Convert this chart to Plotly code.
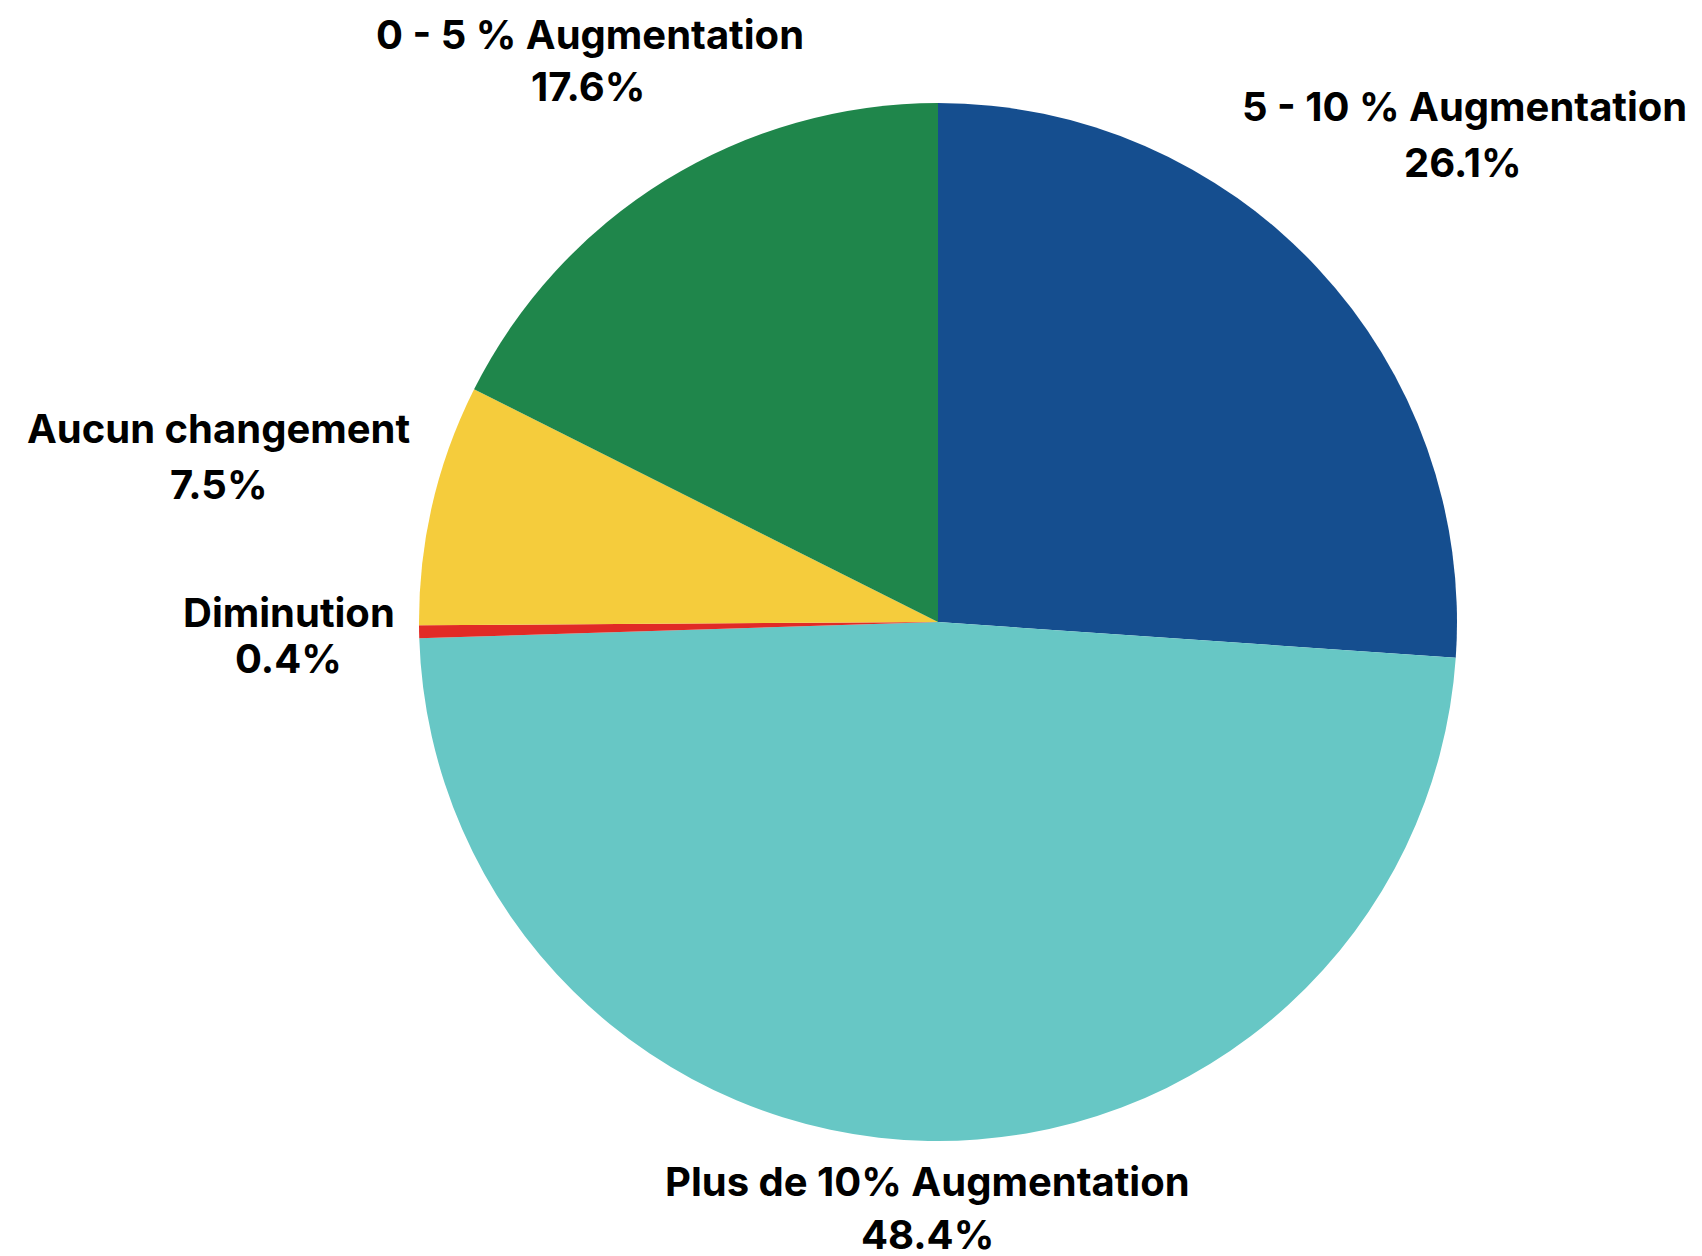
import plotly.graph_objects as go

labels = ["5 - 10 % Augmentation", "Plus de 10% Augmentation", "Diminution",
          "Aucun changement", "0 - 5 % Augmentation"]
values = [26.1, 48.4, 0.4, 7.5, 17.6]
colors = ["#154E8F", "#67C7C5", "#E12A26", "#F5CC3C", "#1F864B"]

W, H = 1702, 1256
OFF = 8  # page body margin offset

# label line centers in pixels (name line, percent line)
label_pos = {
    "5 - 10 % Augmentation": ((1464, 107), (1463, 162)),
    "Plus de 10% Augmentation": ((927, 1181), (927, 1234)),
    "Diminution": ((289, 613), (288, 658)),
    "Aucun changement": ((218, 429), (219, 484)),
    "0 - 5 % Augmentation": ((590, 34), (588, 86)),
}

fig = go.Figure(go.Pie(
    labels=labels,
    values=values,
    marker=dict(colors=colors, line=dict(width=0)),
    sort=False,
    direction="clockwise",
    rotation=0,
    textinfo="none",
    hoverinfo="label+percent",
    showlegend=False,
    domain=dict(x=[(418 - OFF) / W, (1458 - OFF) / W],
                y=[1 - (1141 - OFF) / H, 1 - (103 - OFF) / H]),
))

font = dict(family="Inter, Roboto, Lato, sans-serif", size=40, color="#000000")
annotations = []
for lab, val in zip(labels, values):
    (nx, ny), (px, py) = label_pos[lab]
    annotations.append(dict(x=(nx - OFF) / W, y=1 - (ny - OFF) / H, xref="paper", yref="paper",
                            text=f"<b>{lab}</b>", showarrow=False,
                            xanchor="center", yanchor="middle", font=font))
    annotations.append(dict(x=(px - OFF) / W, y=1 - (py - OFF) / H, xref="paper", yref="paper",
                            text=f"<b>{val:.1f}%</b>", showarrow=False,
                            xanchor="center", yanchor="middle", font=font))

fig.update_layout(
    width=W, height=H,
    margin=dict(l=0, r=0, t=0, b=0),
    paper_bgcolor="white", plot_bgcolor="white",
    annotations=annotations,
)

fig.write_html("out.html")
